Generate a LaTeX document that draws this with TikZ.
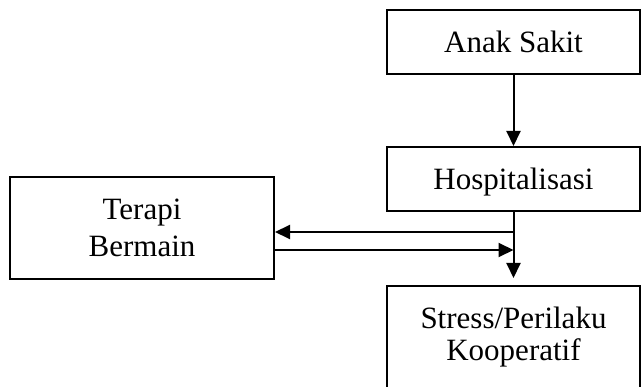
\documentclass[tikz,border=0pt]{standalone}
\usepackage{fontspec}
\setmainfont{Liberation Serif}
\usetikzlibrary{arrows.meta,positioning}

\begin{document}
\begin{tikzpicture}[->,>={Triangle[length=15pt,width=14pt]},line width=2pt,
                    x=1pt,y=-1pt,node distance=71pt]
  \tikzstyle{kotak}=[draw=black,rectangle,inner sep=0pt,align=center,
                     minimum width=253pt,minimum height=64pt,text depth=0pt,
                     font=\fontsize{31}{37}\selectfont]
  \useasboundingbox (0,0) rectangle (641,387);

  \node[kotak] (anak)                     at (513.5,42) {Anak Sakit};
  \node[kotak] (hosp)                     [below=of anak] {Hospitalisasi};
  \node[kotak,inner ysep=20.7pt,minimum height=0pt,text depth=25pt,
        font=\fontsize{31}{32}\selectfont] (stres) [below=73pt of hosp] {Stress/Perilaku\\Kooperatif};
  \node[kotak,minimum width=264pt,minimum height=102pt] (terapi) at (142,228) {Terapi\\Bermain};

  \coordinate (kiri)  at (513.5,232);
  \coordinate (kanan) at (513.5,250);

  \path (anak) edge              (hosp)
   (hosp) edge  [shorten >=7pt]  (stres);
  \draw (kiri) -- (kiri -| terapi.east);
  \draw (kanan -| terapi.east) -- (kanan);
\end{tikzpicture}
\end{document}
